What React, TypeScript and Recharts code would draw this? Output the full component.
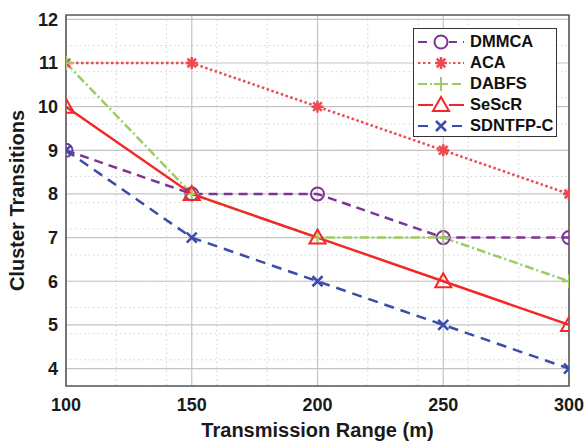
import { CartesianGrid, Line, LineChart, ReferenceArea, XAxis, YAxis } from "recharts";

const ranges = [100, 150, 200, 250, 300];
const dmmca = [9, 8, 8, 7, 7];
const aca = [11, 11, 10, 9, 8];
const dabfs = [11, 8, 7, 7, 6];
const sescr = [10, 8, 7, 6, 5];
const sdntfp = [9, 7, 6, 5, 4];

const xTicks = [100, 150, 200, 250, 300];
const yTicks = [4, 5, 6, 7, 8, 9, 10, 11, 12];

const X_DOMAIN: [number, number] = [100, 300];
const Y_DOMAIN: [number, number] = [3.6, 12.1];

// minor grid, MATLAB style: every 10 m and every 0.2 transitions
const xMinor = Array.from({ length: 21 }, (_, i) => 100 + i * 10);
const yMinor = Array.from({ length: 43 }, (_, i) => Math.round((3.6 + i * 0.2) * 10) / 10);

const FONT = '"Liberation Sans", Arial, Helvetica, sans-serif';

type MarkerKind = "circle" | "star" | "plus" | "triangle" | "cross";

type SeriesDef = {
  key: string;
  name: string;
  values: number[];
  color: string;
  dash?: string;
  marker: MarkerKind;
};

const series: SeriesDef[] = [
  { key: "dmmca", name: "DMMCA", values: dmmca, color: "#7D3594", dash: "9 6", marker: "circle" },
  { key: "aca", name: "ACA", values: aca, color: "#EB4B50", dash: "2.5 2.5", marker: "star" },
  { key: "dabfs", name: "DABFS", values: dabfs, color: "#9CCC62", dash: "9 3 2 3", marker: "plus" },
  { key: "sescr", name: "SeScR", values: sescr, color: "#F22828", marker: "triangle" },
  { key: "sdntfp", name: "SDNTFP-C", values: sdntfp, color: "#3A4CAA", dash: "10 7", marker: "cross" },
];

const chartData = ranges.map((range, i) => {
  const row: Record<string, number> = { range };
  series.forEach((s) => {
    row[s.key] = s.values[i];
  });
  return row;
});

/** Draws one MATLAB-like marker centred at (cx, cy). */
function Marker({ kind, cx, cy, color }: { kind: MarkerKind; cx: number; cy: number; color: string }) {
  const common = { stroke: color, strokeWidth: 2, fill: "none" };
  if (kind === "circle") {
    return <circle cx={cx} cy={cy} r={6.5} {...common} />;
  }
  if (kind === "triangle") {
    const h = 7;
    return <polygon points={`${cx},${cy - h - 1} ${cx - h - 1},${cy + h - 1} ${cx + h + 1},${cy + h - 1}`} {...common} />;
  }
  if (kind === "plus") {
    const s = 7;
    return <path d={`M${cx - s},${cy}H${cx + s}M${cx},${cy - s}V${cy + s}`} {...common} />;
  }
  if (kind === "cross") {
    const s = 5;
    return <path d={`M${cx - s},${cy - s}L${cx + s},${cy + s}M${cx - s},${cy + s}L${cx + s},${cy - s}`} {...common} strokeWidth={2.5} />;
  }
  const s = 6;
  const d = 4.3;
  return (
    <path
      d={`M${cx - s},${cy}H${cx + s}M${cx},${cy - s}V${cy + s}M${cx - d},${cy - d}L${cx + d},${cy + d}M${cx - d},${cy + d}L${cx + d},${cy - d}`}
      {...common}
      strokeWidth={2.5}
    />
  );
}

function makeDot(s: SeriesDef) {
  return (props: { cx?: number; cy?: number; index?: number }) => {
    const { cx, cy, index } = props;
    if (cx == null || cy == null) return <g key={`${s.key}-${index}`} />;
    return (
      <g key={`${s.key}-${index}`}>
        <Marker kind={s.marker} cx={cx} cy={cy} color={s.color} />
      </g>
    );
  };
}

function LegendBox() {
  return (
    <div
      style={{
        position: "absolute",
        left: 413,
        top: 28,
        width: 144,
        height: 109,
        border: "1px solid #333",
        background: "#fff",
        fontFamily: FONT,
        fontWeight: "bold",
        fontSize: 16.5,
        color: "#111",
        boxSizing: "border-box",
        paddingTop: 2,
      }}
    >
      {series.map((s) => (
        <div key={s.key} style={{ display: "flex", alignItems: "center", height: 21 }}>
          <svg width={52} height={20} style={{ marginLeft: 2, flex: "none" }}>
            <line x1={2} y1={10} x2={48} y2={10} stroke={s.color} strokeWidth={2} strokeDasharray={s.dash} />
            <rect x={17} y={2} width={16} height={16} fill="#fff" />
            <Marker kind={s.marker} cx={25} cy={10} color={s.color} />
          </svg>
          <span style={{ marginLeft: 2 }}>{s.name}</span>
        </div>
      ))}
    </div>
  );
}

export default function App() {
  const tickStyle = { fill: "#1a1a1a", fontSize: 18, fontWeight: "bold", fontFamily: FONT };
  const titleStyle = { fill: "#1a1a1a", fontSize: 20, fontWeight: "bold", fontFamily: FONT };
  return (
    <div style={{ position: "absolute", left: 0, top: 0, width: 586, height: 441, background: "#fff" }}>
      <LineChart width={586} height={441} data={chartData} margin={{ top: 15, right: 17, bottom: 0, left: 0 }}>
        <CartesianGrid
          horizontalValues={yMinor}
          verticalValues={xMinor}
          stroke="#d2d2d2"
          strokeDasharray="1.5 3"
        />
        <CartesianGrid horizontalValues={yTicks} verticalValues={xTicks} stroke="#c4c4c4" strokeWidth={1.2} />
        <XAxis
          dataKey="range"
          type="number"
          domain={X_DOMAIN}
          ticks={xTicks}
          allowDataOverflow
          axisLine={false}
          tickLine={false}
          tickMargin={6}
          height={55}
          tick={tickStyle}
          label={{
            value: "Transmission Range (m)",
            position: "insideBottom",
            offset: 4,
            style: titleStyle,
          }}
        />
        <YAxis
          type="number"
          domain={Y_DOMAIN}
          ticks={yTicks}
          allowDataOverflow
          axisLine={false}
          tickLine={false}
          width={66}
          tick={tickStyle}
          label={{
            value: "Cluster Transitions",
            angle: -90,
            position: "insideLeft",
            offset: 17,
            style: { ...titleStyle, textAnchor: "middle" },
          }}
        />
        <ReferenceArea
          x1={X_DOMAIN[0]}
          x2={X_DOMAIN[1]}
          y1={Y_DOMAIN[0]}
          y2={Y_DOMAIN[1]}
          fill="none"
          fillOpacity={0}
          stroke="#555"
          strokeWidth={1.5}
        />
        {series.map((s) => (
          <Line
            key={s.key}
            dataKey={s.key}
            name={s.name}
            type="linear"
            stroke={s.color}
            strokeWidth={2.5}
            strokeDasharray={s.dash}
            dot={makeDot(s)}
            activeDot={false}
            isAnimationActive={false}
          />
        ))}
      </LineChart>
      <LegendBox />
    </div>
  );
}
